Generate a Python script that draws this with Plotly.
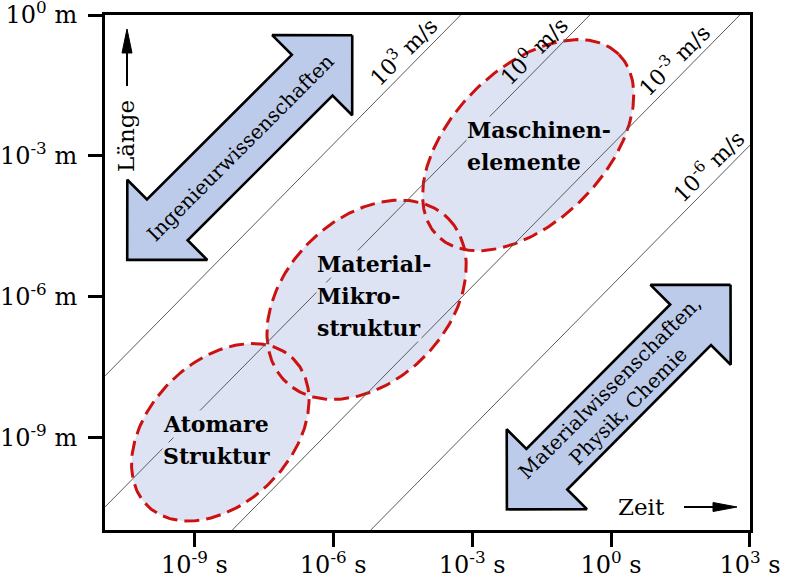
import numpy as np
import plotly.graph_objects as go

# ---------------- data (log10 units) ----------------
X_RANGE = [-10.93, 3.0005]   # log10(time / s)
Y_RANGE = [-10.96, 0.0005]   # log10(length / m)

x_tick_exp = [-9, -6, -3, 0, 3]
x_tick_text = ["10<sup>-9</sup> s", "10<sup>-6</sup> s", "10<sup>-3</sup> s",
               "10<sup>0</sup> s", "10<sup>3</sup> s"]
y_tick_exp = [-9, -6, -3, 0]
y_tick_text = ["10<sup>-9</sup> m", "10<sup>-6</sup> m", "10<sup>-3</sup> m", "10<sup>0</sup> m"]

# velocity iso-lines: log10(L) = log10(t) + offset (as drawn)
velocity_labels = ["10<sup>3</sup> m/s", "10<sup>0</sup> m/s",
                   "10<sup>-3</sup> m/s", "10<sup>-6</sup> m/s"]
velocity_offsets = [3.25, 0.46, -2.78, -5.77]
velocity_label_t = [-4.26, -1.44, 1.60, 2.34]

# scale regions (ellipses, tilted along the velocity direction)
region_lines = [["Atomare", "Struktur"],
                ["Material-", "Mikro-", "struktur"],
                ["Maschinen-", "elemente"]]
region_center_t = [-8.44, -5.28, -1.79]
region_center_L = [-8.88, -6.06, -2.77]
region_major = [2.22, 2.47, 2.75]   # semi-axes in decades
region_minor = [1.52, 1.74, 1.64]
region_label_t = [-9.70, -6.37, -3.13]
region_label_L = [-8.70, -5.30, -2.45]

# discipline double arrows
arrow_texts = ["Ingenieurwissenschaften", "Materialwissenschaften,<br>Physik, Chemie"]
arrow_tip1_t = [-5.59, 2.58]
arrow_tip1_L = [-0.43, -5.74]
arrow_tip2_t = [-10.45, -2.25]
arrow_tip2_L = [-5.21, -10.52]

# ---------------- styling / geometry helpers ----------------
W, H = 786, 577
ML, MR, MT, MB = 105, 36, 15, 47
PW, PH = W - ML - MR, H - MT - MB
PXX = PW / (X_RANGE[1] - X_RANGE[0])
PXY = PH / (Y_RANGE[1] - Y_RANGE[0])
PXA = 0.5 * (PXX + PXY)

FONT = "DejaVu Serif"
ELL_FILL = "rgb(221,227,243)"
ELL_LINE = "rgb(204,17,17)"
ARR_FILL = "rgb(188,203,233)"


def to_px(lt, lL):
    return ML + (lt - X_RANGE[0]) * PXX, MT + (Y_RANGE[1] - lL) * PXY


def to_data(px, py):
    return X_RANGE[0] + (px - ML) / PXX, Y_RANGE[1] - (py - MT) / PXY


fig = go.Figure()

# ellipse fills
ell_pts = []
phi = np.linspace(0, 2 * np.pi, 241)
for ct, cL, a, b in zip(region_center_t, region_center_L, region_major, region_minor):
    cx, cy = to_px(ct, cL)
    ap, bp = a * PXA, b * PXA
    ox = (ap * np.cos(phi) + bp * np.sin(phi)) / np.sqrt(2)
    oy = (-ap * np.cos(phi) + bp * np.sin(phi)) / np.sqrt(2)
    lt, lL = to_data(cx + ox, cy + oy)
    ell_pts.append((10 ** lt, 10 ** lL))
    fig.add_trace(go.Scatter(x=10 ** lt, y=10 ** lL, mode="lines", fill="toself",
                             fillcolor=ELL_FILL, line=dict(width=0),
                             hoverinfo="skip", showlegend=False))
# ellipse dashed outlines
for xs, ys in ell_pts:
    fig.add_trace(go.Scatter(x=xs, y=ys, mode="lines",
                             line=dict(color=ELL_LINE, width=3, dash="15px,7px"),
                             hoverinfo="skip", showlegend=False))

# velocity lines
for off in velocity_offsets:
    t = np.array(X_RANGE)
    fig.add_trace(go.Scatter(x=10 ** t, y=10 ** (t + off), mode="lines",
                             line=dict(color="#5a5a5a", width=1),
                             hoverinfo="skip", showlegend=False))

# double arrows
HEAD_L, HEAD_W, SHAFT_W = 56.6, 56.6, 28.8
for t1, L1, t2, L2 in zip(arrow_tip1_t, arrow_tip1_L, arrow_tip2_t, arrow_tip2_L):
    p1 = np.array(to_px(t1, L1))
    p2 = np.array(to_px(t2, L2))
    d = (p1 - p2) / np.linalg.norm(p1 - p2)
    n = np.array([-d[1], d[0]])
    pts = [p1,
           p1 - HEAD_L * d + HEAD_W * n,
           p1 - HEAD_L * d + SHAFT_W * n,
           p2 + HEAD_L * d + SHAFT_W * n,
           p2 + HEAD_L * d + HEAD_W * n,
           p2,
           p2 + HEAD_L * d - HEAD_W * n,
           p2 + HEAD_L * d - SHAFT_W * n,
           p1 - HEAD_L * d - SHAFT_W * n,
           p1 - HEAD_L * d - HEAD_W * n,
           p1]
    pts = np.array(pts)
    lt, lL = to_data(pts[:, 0], pts[:, 1])
    fig.add_trace(go.Scatter(x=10 ** lt, y=10 ** lL, mode="lines", fill="toself",
                             fillcolor=ARR_FILL, line=dict(color="black", width=2.6),
                             hoverinfo="skip", showlegend=False))

annotations = []
# velocity labels
for lab, off, t in zip(velocity_labels, velocity_offsets, velocity_label_t):
    annotations.append(dict(x=t, y=t + off, xref="x", yref="y", text=lab,
                            textangle=-45, showarrow=False, xshift=-11, yshift=11,
                            font=dict(family=FONT, size=22, color="black")))
# region labels
for lines, lt, lL in zip(region_lines, region_label_t, region_label_L):
    for i, s in enumerate(lines):
        annotations.append(dict(x=lt, y=lL, xref="x", yref="y", text="<b>%s</b>" % s,
                                showarrow=False, xanchor="left", yanchor="middle",
                                yshift=-32 * i, bgcolor=ELL_FILL, borderpad=0,
                                font=dict(family=FONT, size=22, color="black")))
# arrow texts
for txt, t1, L1, t2, L2 in zip(arrow_texts, arrow_tip1_t, arrow_tip1_L, arrow_tip2_t, arrow_tip2_L):
    annotations.append(dict(x=(t1 + t2) / 2, y=(L1 + L2) / 2, xref="x", yref="y", text=txt,
                            textangle=-45, showarrow=False,
                            font=dict(family=FONT, size=20, color="black")))

# axis captions inside the plot
lx, ly = to_data(126, 136)
annotations.append(dict(x=lx, y=ly, xref="x", yref="y", text="Länge", textangle=-90,
                        showarrow=False, font=dict(family=FONT, size=23, color="black")))
zx, zy = to_data(641, 507)
annotations.append(dict(x=zx, y=zy, xref="x", yref="y", text="Zeit",
                        showarrow=False, font=dict(family=FONT, size=23, color="black")))


def ppx(px):
    return (px - ML) / PW


def ppy(py):
    return (MT + PH - py) / PH


shapes = [
    # Länge arrow
    dict(type="line", xref="paper", yref="paper", x0=ppx(127), x1=ppx(127),
         y0=ppy(86), y1=ppy(48), line=dict(color="black", width=2)),
    dict(type="path", xref="paper", yref="paper",
         path="M %f,%f L %f,%f L %f,%f Z" % (ppx(127), ppy(29), ppx(122), ppy(53), ppx(132), ppy(53)),
         fillcolor="black", line=dict(color="black", width=1)),
    # Zeit arrow
    dict(type="line", xref="paper", yref="paper", x0=ppx(684), x1=ppx(718),
         y0=ppy(507), y1=ppy(507), line=dict(color="black", width=2)),
    dict(type="path", xref="paper", yref="paper",
         path="M %f,%f L %f,%f L %f,%f Z" % (ppx(737), ppy(507), ppx(713), ppy(502.5), ppx(713), ppy(511.5)),
         fillcolor="black", line=dict(color="black", width=1)),
]

axis_common = dict(type="log", showgrid=False, zeroline=False, showline=True,
                   linecolor="black", linewidth=3, mirror=True, ticks="outside",
                   ticklen=14, tickwidth=3, tickcolor="black", automargin=False,
                   ticklabeloverflow="allow",
                   tickfont=dict(family=FONT, size=24, color="black"))

fig.update_layout(
    width=W, height=H,
    margin=dict(l=ML, r=MR, t=MT, b=MB, pad=0),
    paper_bgcolor="white", plot_bgcolor="white",
    showlegend=False, hovermode=False,
    xaxis=dict(range=X_RANGE, tickvals=[10.0 ** e for e in x_tick_exp], ticktext=x_tick_text,
               ticklabelstandoff=-3, **axis_common),
    yaxis=dict(range=Y_RANGE, tickvals=[10.0 ** e for e in y_tick_exp], ticktext=y_tick_text,
               ticklabelstandoff=6, **axis_common),
    annotations=annotations,
    shapes=shapes,
)

fig.write_html("out.html", config={"displayModeBar": False},
               post_script="document.body.style.margin='0px';document.body.style.overflow='hidden';")
